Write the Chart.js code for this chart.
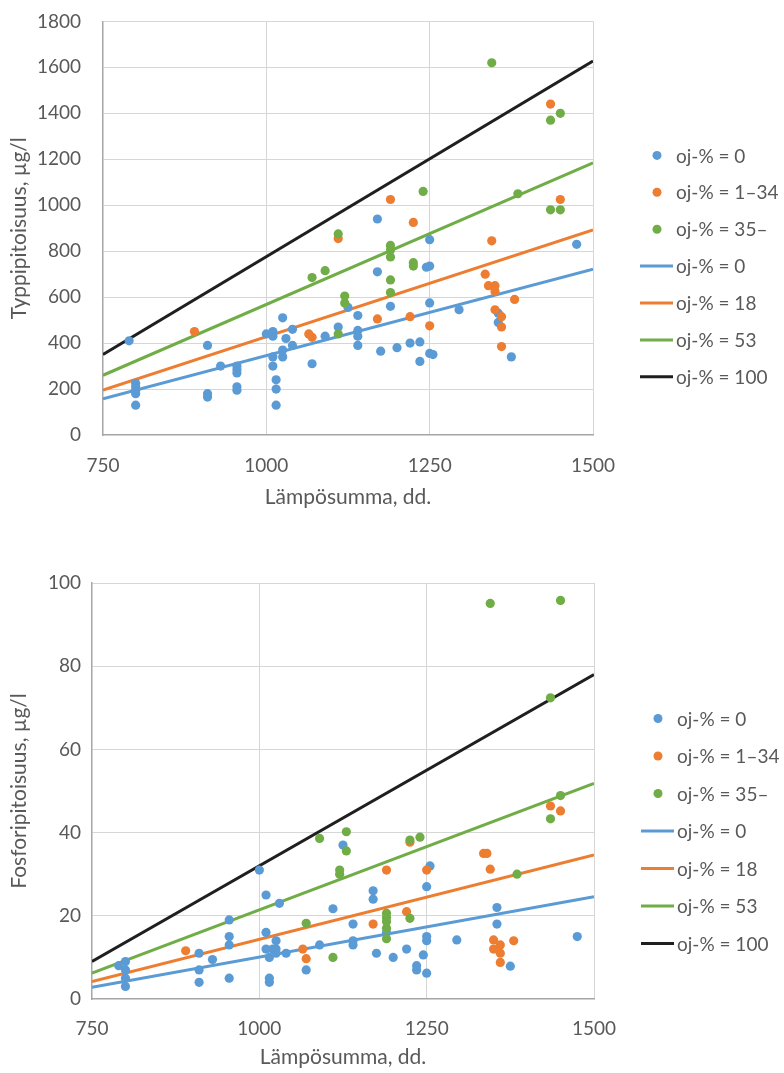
<!DOCTYPE html>
<html>
<head>
<meta charset="utf-8">
<script src="https://cdn.jsdelivr.net/npm/chart.js@4.4.1/dist/chart.umd.min.js"></script>
<style>
  body { margin: 0; background: #fff; overflow: hidden; }
  .wrap { position: absolute; left: 0; width: 784px; }
  #top { top: -12px; height: 542px; }
  #bottom { top: 530px; height: 543px; }
</style>
</head>
<body>
<div class="wrap" id="top"><canvas id="typpiChart" width="784" height="542"></canvas></div>
<div class="wrap" id="bottom"><canvas id="fosforiChart" width="784" height="543"></canvas></div>
<script>
// x = lämpösumma (dd.), y = pitoisuus (µg/l)
const typpi0 = [[790,410],[800,225],[800,210],[800,195],[800,180],[800,130],[910,390],[910,180],[910,165],[930,300],
  [955,300],[955,285],[955,270],[955,210],[955,195],[1000,440],[1010,450],[1010,430],[1010,340],[1010,300],
  [1015,240],[1015,200],[1015,130],[1025,510],[1025,370],[1025,340],[1030,420],[1040,460],[1040,390],[1070,310],
  [1090,430],[1110,470],[1125,555],[1140,520],[1140,455],[1140,430],[1140,390],[1170,940],[1170,710],[1175,365],
  [1190,560],[1200,380],[1220,400],[1235,405],[1235,320],[1245,730],[1250,735],[1250,850],[1250,575],[1250,355],
  [1255,350],[1295,545],[1355,530],[1355,490],[1375,340],[1475,830]];
const typpi1_34 = [[890,450],[1065,440],[1070,425],[1110,855],[1170,505],[1190,1025],[1220,515],[1225,925],[1250,475],
  [1335,700],[1340,650],[1345,845],[1350,650],[1350,625],[1350,545],[1360,515],[1360,470],[1360,385],[1380,590],
  [1435,1440],[1450,1025]];
const typpi35 = [[1070,685],[1090,715],[1110,875],[1110,440],[1120,605],[1120,575],[1190,825],[1190,805],[1190,775],
  [1190,675],[1190,620],[1225,750],[1225,735],[1240,1060],[1345,1620],[1385,1050],[1435,1370],[1435,980],
  [1450,1400],[1450,980]];

const fosfori0 = [[790,8],[800,9],[800,7],[800,5],[800,3],[910,11],[910,7],[910,4],[930,9.5],[955,19],[955,15],
  [955,13],[955,5],[1000,31],[1010,25],[1010,16],[1010,12],[1015,10],[1020,12],[1025,14],[1025,12],[1025,11],
  [1015,5],[1015,4],[1030,23],[1040,11],[1070,7],[1090,13],[1110,21.7],[1125,37],[1140,18],[1140,14],[1140,13],
  [1170,26],[1170,24],[1175,11],[1190,16],[1200,10],[1220,12],[1235,8],[1235,7],[1245,10.6],[1250,27],[1250,15],
  [1250,14],[1250,6.2],[1255,32],[1295,14.2],[1355,22],[1355,18],[1375,7.9],[1475,15]];
const fosfori1_34 = [[890,11.6],[1065,12],[1070,9.7],[1170,18],[1190,31],[1220,21],[1225,37.7],[1250,31],[1335,35],
  [1340,35],[1345,31.2],[1350,14.2],[1350,12],[1360,13],[1360,11],[1360,8.8],[1380,14],[1435,46.4],[1450,45.2]];
const fosfori35 = [[1070,18.2],[1090,38.6],[1110,10],[1120,31],[1120,30],[1130,40.2],[1130,35.6],[1190,20.6],
  [1190,19.6],[1190,18.6],[1190,17],[1190,14.5],[1225,19.4],[1225,38.2],[1240,38.9],[1345,95.1],[1385,30],
  [1435,43.3],[1435,72.4],[1450,48.9],[1450,95.8]];

// mallisuorat, arvot kohdissa 750 ja 1500
const lineX = [750, 1500];
const typpiLines = { 0: [157, 722], 18: [195, 892], 53: [260, 1184], 100: [350, 1628] };
const fosforiLines = { 0: [2.8, 24.6], 18: [4.2, 34.6], 53: [6.2, 51.8], 100: [9.0, 78.0] };

const pointLabels = ['oj-% = 0', 'oj-% = 1–34', 'oj-% = 35–'];
const lineKeys = [0, 18, 53, 100];
const colors = ['#5B9BD5', '#ED7D31', '#70AD47', '#1F1F1F'];

const FONT = 'Lato, "Open Sans", sans-serif';
const TEXT = '#595959';

const sideLegend = {
  id: 'sideLegend',
  afterDraw(chart, args, opts) {
    const { ctx, chartArea } = chart;
    ctx.save();
    ctx.font = '19px ' + FONT;
    ctx.textBaseline = 'middle';
    ctx.textAlign = 'left';
    chart.data.datasets.forEach((ds, i) => {
      const y = chartArea.top + opts.top + i * opts.gap;
      const r = chartArea.right;
      if (ds.type === 'line') {
        ctx.strokeStyle = ds.borderColor;
        ctx.lineWidth = 3;
        ctx.beginPath();
        ctx.moveTo(r + 47, y);
        ctx.lineTo(r + 80, y);
        ctx.stroke();
      } else {
        ctx.fillStyle = ds.backgroundColor;
        ctx.beginPath();
        ctx.arc(r + 64, y, 4.5, 0, Math.PI * 2);
        ctx.fill();
      }
      ctx.fillStyle = TEXT;
      ctx.fillText(ds.label, r + 83, y + 1);
    });
    ctx.restore();
  }
};

function makeChart(id, pts, lines, cfg) {
  const datasets = [];
  pts.forEach((arr, i) => {
    datasets.push({
      type: 'scatter',
      label: pointLabels[i],
      data: arr.map(p => ({ x: p[0], y: p[1] })),
      backgroundColor: colors[i],
      borderWidth: 0,
      pointRadius: 4.6,
      order: 3 - i
    });
  });
  lineKeys.forEach((k, i) => {
    datasets.push({
      type: 'line',
      label: 'oj-% = ' + k,
      data: lineX.map((x, j) => ({ x: x, y: lines[k][j] })),
      borderColor: colors[i],
      borderWidth: 3,
      pointRadius: 0,
      fill: false,
      order: 10 - i
    });
  });

  return new Chart(document.getElementById(id), {
    data: { datasets: datasets },
    plugins: [sideLegend],
    options: {
      responsive: false,
      animation: false,
      layout: { autoPadding: false, padding: { top: cfg.top, right: cfg.right, left: 0, bottom: 0 } },
      plugins: {
        legend: { display: false },
        tooltip: { enabled: false },
        sideLegend: { top: cfg.legendTop, gap: cfg.legendGap }
      },
      scales: {
        x: {
          type: 'linear',
          min: 750, max: 1500,
          ticks: { stepSize: 250, color: TEXT, font: { family: FONT, size: 19 }, padding: cfg.xTickPad,
            callback: v => String(v) },
          grid: { color: c => c.tick && c.tick.value === 750 ? 'rgba(0,0,0,0)' : '#D6D6D6', lineWidth: 1, drawTicks: false },
          border: { color: '#A6A6A6', width: 1.5 },
          title: { display: true, text: 'Lämpösumma, dd.', color: TEXT, font: { family: FONT, size: 21 }, padding: { top: 0, bottom: cfg.xTitlePad } },
          afterFit: s => { s.height = cfg.xHeight; }
        },
        y: {
          type: 'linear',
          min: 0, max: cfg.yMax,
          ticks: { stepSize: cfg.yStep, color: TEXT, font: { family: FONT, size: 19 }, padding: cfg.yTickPad,
            callback: v => String(v) },
          grid: { color: c => c.tick && c.tick.value === 0 ? 'rgba(0,0,0,0)' : '#D6D6D6', lineWidth: 1, drawTicks: false },
          border: { color: '#A6A6A6', width: 1.5 },
          title: { display: true, text: cfg.yTitle, color: TEXT, font: { family: FONT, size: 21 }, padding: { top: 7, bottom: 0 } },
          afterFit: s => { s.width = cfg.yWidth; }
        }
      }
    }
  });
}

makeChart('typpiChart', [typpi0, typpi1_34, typpi35], typpiLines, {
  top: 20, right: 191, yWidth: 103, xHeight: 95, yMax: 1800, yStep: 200,
  yTitle: 'Typpipitoisuus, µg/l', xTickPad: 19, yTickPad: 22, xTitlePad: 20,
  legendTop: 134, legendGap: 36.9
});

makeChart('fosforiChart', [fosfori0, fosfori1_34, fosfori35], fosforiLines, {
  top: 53, right: 190, yWidth: 92, xHeight: 74, yMax: 100, yStep: 20,
  yTitle: 'Fosforipitoisuus, µg/l', xTickPad: 18, yTickPad: 11, xTitlePad: 3,
  legendTop: 135.5, legendGap: 37.5
});
</script>
</body>
</html>
